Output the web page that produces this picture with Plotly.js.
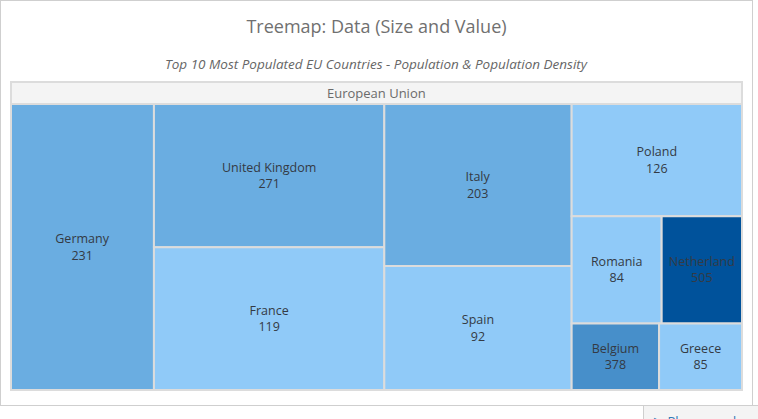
<!DOCTYPE html>
<html>
<head>
<meta charset="utf-8">
<script src="https://cdn.plot.ly/plotly-3.0.1.min.js"></script>
<style>
  html, body { margin: 0; padding: 0; background: #fff; overflow: hidden; }
  #frame { position: absolute; left: 0; top: 0; width: 751px; height: 404px; border: 1px solid #cfcfcf; }
  #chart { width: 751px; height: 404px; }
  #play { position: absolute; left: 643px; top: 405px; width: 130px; height: 30px; border-left: 1px solid #cfcfcf; border-top: 1px solid #cfcfcf; background: #f4f4f4; font-family: "Open Sans", sans-serif; font-size: 13px; color: #337ab7; padding: 6px 0 0 10px; box-sizing: border-box; }
</style>
</head>
<body>
<div id="frame"><div id="chart"></div></div>
<div id="play">&#9654; Playground</div>
<script>
const rootLabel = "European Union";
const countries = ["Germany", "United Kingdom", "France", "Italy", "Spain", "Poland", "Romania", "Netherland", "Belgium", "Greece"];
const population = [82.4, 66.5, 66.3, 61.2, 46.8, 38.5, 19.5, 17.4, 11.7, 11.1];
const density = [231, 271, 119, 203, 92, 126, 84, 505, 378, 85];

function densityColor(d) {
  if (d >= 450) return "#00529b";
  if (d >= 300) return "#478fca";
  if (d >= 150) return "#6aade1";
  return "#90caf8";
}

const labels = [rootLabel].concat(countries);
const parents = [""].concat(countries.map(() => rootLabel));
const values = [0].concat(population);
const colors = ["#f4f4f4"].concat(density.map(densityColor));
const custom = [""].concat(density.map(String));
const templates = ["%{label}"].concat(countries.map(() => "%{label}<br>%{customdata}"));
// root header text is hidden here and drawn as a larger annotation instead
const fontColors = ["rgba(0,0,0,0)"].concat(countries.map(() => "#343a44"));

const trace = {
  type: "treemap",
  labels: labels,
  parents: parents,
  values: values,
  branchvalues: "remainder",
  customdata: custom,
  texttemplate: templates,
  textposition: "middle center",
  hoverinfo: "label+value",
  sort: true,
  tiling: { packing: "squarify", squarifyratio: 1, pad: 0 },
  pathbar: { visible: false },
  marker: {
    colors: colors,
    line: { color: "#dcdcdc", width: 2 },
    pad: { t: 22, l: 0, r: 0, b: 0 }
  },
  textfont: { family: "Open Sans, sans-serif", size: 12.5, color: fontColors },
  insidetextfont: { family: "Open Sans, sans-serif", size: 12.5, color: fontColors },
  outsidetextfont: { family: "Open Sans, sans-serif", size: 13, color: "rgba(0,0,0,0)" },
  domain: { x: [0, 1], y: [0, 1] }
};

const layout = {
  width: 751,
  height: 404,
  margin: { l: 10, r: 10, t: 81, b: 15 },
  paper_bgcolor: "#ffffff",
  title: {
    text: "Treemap: Data (Size and Value)",
    font: { family: "Open Sans, sans-serif", size: 18, color: "#707070" },
    x: 0.5, xanchor: "center",
    yref: "container", y: 1 - 26 / 404, yanchor: "middle"
  },
  annotations: [{
    text: "<i>Top 10 Most Populated EU Countries - Population &amp; Population Density</i>",
    xref: "paper", yref: "paper",
    x: 0.5, y: 1, yshift: 7, xanchor: "center", yanchor: "bottom",
    showarrow: false,
    font: { family: "Open Sans, sans-serif", size: 13.5, color: "#666666" }
  }, {
    text: rootLabel,
    xref: "paper", yref: "paper",
    x: 0.5, y: 1, yshift: -11, xanchor: "center", yanchor: "middle",
    showarrow: false,
    font: { family: "Open Sans, sans-serif", size: 13, color: "#6b6b6b" }
  }],
  showlegend: false
};

Plotly.newPlot("chart", [trace], layout, { displayModeBar: false, staticPlot: true }).then(function (gd) {
  // drop the hidden (transparent) built-in header text so only the annotation remains
  gd.querySelectorAll("g.slice text.slicetext").forEach(function (t) {
    if (t.textContent === rootLabel) t.parentNode.removeChild(t);
  });
});
</script>
</body>
</html>
